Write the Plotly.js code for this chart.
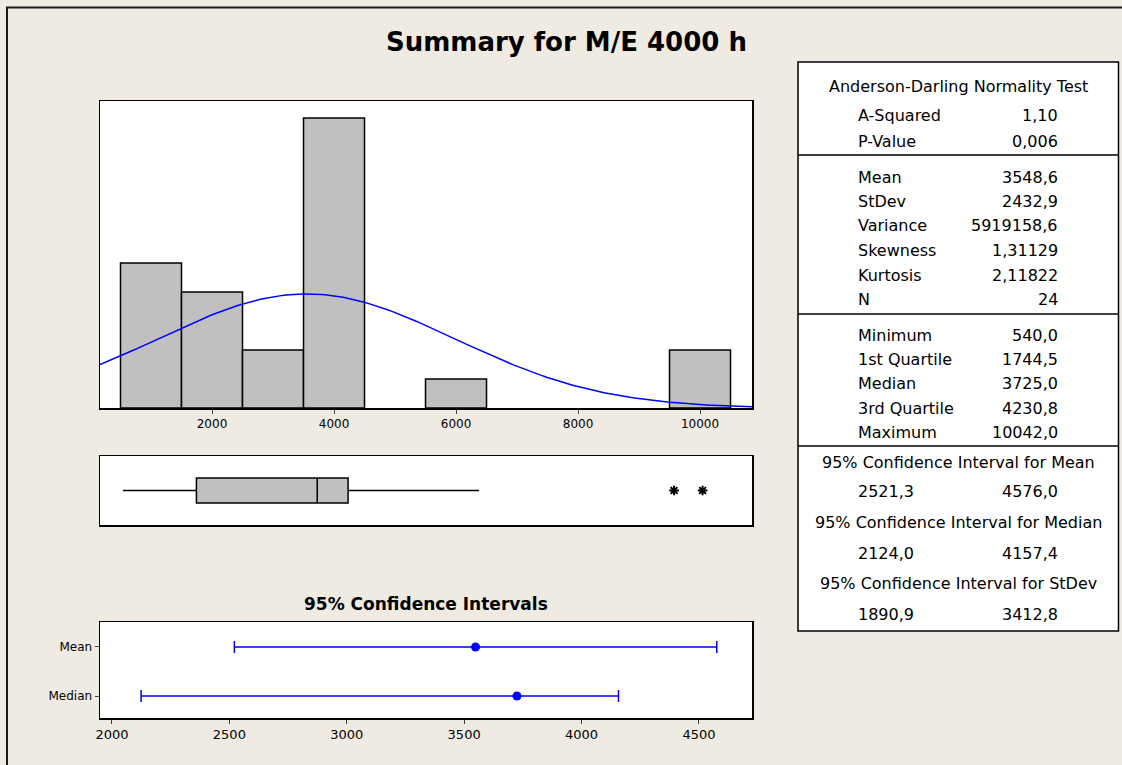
<!DOCTYPE html>
<html>
<head>
<meta charset="utf-8">
<script src="https://cdn.plot.ly/plotly-3.0.1.min.js"></script>
<style>
html,body{margin:0;padding:0;background:#efebe2;}
#chart{width:1122px;height:765px;}
</style>
</head>
<body>
<div id="chart"></div>
<script>
// ---------- data ----------
const binCenters = [1000, 2000, 3000, 4000, 6000, 10000];
const binCounts  = [5, 4, 2, 10, 1, 2];
const binWidth = 1000;
const meanVal = 3548.6;
const sdVal = 2432.9;
const nObs = 24;

const boxQ1 = [1744.5];
const boxMedian = [3725.0];
const boxQ3 = [4230.8];
const boxLowerWhisker = [540.0];
const boxUpperWhisker = [6377];
const boxOutliers = [9574, 10042.0];

const ciCats = ['Mean', 'Median'];
const ciCenters = [3548.6, 3725.0];
const ciLows = [2521.3, 2124.0];
const ciHighs = [4576.0, 4157.4];

const histTicks = [2000, 4000, 6000, 8000, 10000];
const histTickLabels = ['2000', '4000', '6000', '8000', '10000'];
const ciTicks = [2000, 2500, 3000, 3500, 4000, 4500];
const ciTickLabels = ['2000', '2500', '3000', '3500', '4000', '4500'];

const adLabels = ['A-Squared', 'P-Value'];
const adValues = ['1,10', '0,006'];
const descLabels = ['Mean', 'StDev', 'Variance', 'Skewness', 'Kurtosis', 'N'];
const descValues = ['3548,6', '2432,9', '5919158,6', '1,31129', '2,11822', '24'];
const quantLabels = ['Minimum', '1st Quartile', 'Median', '3rd Quartile', 'Maximum'];
const quantValues = ['540,0', '1744,5', '3725,0', '4230,8', '10042,0'];
const ciTitles = ['95% Confidence Interval for Mean', '95% Confidence Interval for Median', '95% Confidence Interval for StDev'];
const ciLowText = ['2521,3', '2124,0', '1890,9'];
const ciHighText = ['4576,0', '4157,4', '3412,8'];

// ---------- layout helpers ----------
const W = 1122, H = 765;
const px = v => v / W;
const py = v => (H - v) / H;
const FONT = 'DejaVu Sans, Liberation Sans, sans-serif';

const histRange = [164, 10852];
const ciRange = [1949, 4726];

// fitted normal curve (from mean / stdev shown in table)
const curveX = [], curveY = [];
for (let i = 0; i <= 200; i++) {
  const x = histRange[0] + (histRange[1] - histRange[0]) * i / 200;
  curveX.push(x);
  curveY.push(nObs * binWidth / (sdVal * Math.sqrt(2 * Math.PI)) * Math.exp(-0.5 * Math.pow((x - meanVal) / sdVal, 2)));
}

const traces = [
  {
    type: 'bar', x: binCenters, y: binCounts, width: binWidth,
    marker: {color: '#c0c0c0', line: {color: '#000', width: 1.5}},
    xaxis: 'x', yaxis: 'y', hoverinfo: 'x+y'
  },
  {
    type: 'scatter', mode: 'lines', x: curveX, y: curveY,
    line: {color: '#0000ff', width: 1.5}, xaxis: 'x', yaxis: 'y'
  },
  {
    type: 'box', orientation: 'h', y: [0],
    q1: boxQ1, median: boxMedian, q3: boxQ3,
    lowerfence: boxLowerWhisker, upperfence: boxUpperWhisker,
    fillcolor: '#c0c0c0', line: {color: '#000', width: 1.5},
    whiskerwidth: 0, width: 0.72, boxpoints: false,
    xaxis: 'x2', yaxis: 'y2'
  },
  {
    type: 'scatter', mode: 'markers', x: boxOutliers, y: boxOutliers.map(() => 0),
    marker: {symbol: 'asterisk-open', size: 8, color: '#000', line: {color: '#000', width: 2}},
    xaxis: 'x2', yaxis: 'y2'
  },
  {
    type: 'scatter', mode: 'markers', x: ciCenters, y: ciCats,
    marker: {color: '#0000ff', size: 9},
    error_x: {
      type: 'data', symmetric: false,
      array: ciHighs.map((h, i) => h - ciCenters[i]),
      arrayminus: ciLows.map((l, i) => ciCenters[i] - l),
      color: '#0000ff', thickness: 1.5, width: 6
    },
    xaxis: 'x3', yaxis: 'y3'
  }
];

const axisBase = {
  showgrid: false, zeroline: false, showline: true, mirror: true,
  linecolor: '#000', linewidth: 1.5
};

const annotations = [];
function ann(text, x, y, anchor, size, bold) {
  annotations.push({
    text: bold ? '<b>' + text + '</b>' : text,
    x: px(x), y: py(y), xref: 'paper', yref: 'paper',
    xanchor: anchor, yanchor: 'middle', showarrow: false,
    font: {family: FONT, size: size, color: '#000'}
  });
}
const LX = 856, RX = 1060, CX = 958, TS = 16;
ann('Anderson-Darling Normality Test', CX, 86, 'center', TS);
const adY = [115, 141];
adLabels.forEach((l, i) => { ann(l, LX, adY[i], 'left', TS); ann(adValues[i], RX, adY[i], 'right', TS); });
const descY = [178, 202, 226, 251, 275, 299];
descLabels.forEach((l, i) => { ann(l, LX, descY[i], 'left', TS); ann(descValues[i], RX, descY[i], 'right', TS); });
const quantY = [335, 359, 383, 408, 432];
quantLabels.forEach((l, i) => { ann(l, LX, quantY[i], 'left', TS); ann(quantValues[i], RX, quantY[i], 'right', TS); });
const ciTitleY = [462, 522, 583], ciValY = [492, 553, 614];
ciTitles.forEach((t, i) => {
  ann(t, CX, ciTitleY[i], 'center', TS);
  ann(ciLowText[i], LX, ciValY[i], 'left', TS);
  ann(ciHighText[i], RX, ciValY[i], 'right', TS);
});
ann('95% Confidence Intervals', 426, 604, 'center', 17, true);

const shapes = [
  {type: 'rect', xref: 'paper', yref: 'paper', x0: px(798), x1: px(1118.5), y0: py(631), y1: py(62),
   line: {color: '#000', width: 1.5}, fillcolor: '#fff', layer: 'below'},
  {type: 'line', xref: 'paper', yref: 'paper', x0: px(798), x1: px(1118.5), y0: py(155), y1: py(155), line: {color: '#000', width: 1.5}},
  {type: 'line', xref: 'paper', yref: 'paper', x0: px(798), x1: px(1118.5), y0: py(314), y1: py(314), line: {color: '#000', width: 1.5}},
  {type: 'line', xref: 'paper', yref: 'paper', x0: px(798), x1: px(1118.5), y0: py(446), y1: py(446), line: {color: '#000', width: 1.5}},
  {type: 'line', xref: 'paper', yref: 'paper', x0: px(6), x1: 1, y0: py(7.5), y1: py(7.5), line: {color: '#1a1a1a', width: 2}},
  {type: 'line', xref: 'paper', yref: 'paper', x0: px(7), x1: px(7), y0: py(7), y1: 0, line: {color: '#1a1a1a', width: 2}}
];

const layout = {
  width: W, height: H,
  margin: {l: 0, r: 0, t: 0, b: 0},
  paper_bgcolor: '#efebe2', plot_bgcolor: '#ffffff',
  showlegend: false,
  font: {family: FONT, color: '#000'},
  title: {
    text: '<b>Summary for M/E 4000 h</b>',
    font: {family: FONT, size: 26, color: '#000'},
    x: px(566.5), xanchor: 'center', xref: 'paper',
    y: py(42), yanchor: 'middle', yref: 'container'
  },
  xaxis: Object.assign({}, axisBase, {
    domain: [px(100), px(752)], range: histRange, anchor: 'y',
    tickmode: 'array', tickvals: histTicks, ticktext: histTickLabels,
    ticks: 'outside', ticklen: 4, tickwidth: 1,
    tickfont: {family: FONT, size: 12}
  }),
  yaxis: Object.assign({}, axisBase, {
    domain: [py(408), py(101)], range: [0, 10.59], anchor: 'x',
    showticklabels: false, ticks: ''
  }),
  xaxis2: Object.assign({}, axisBase, {
    domain: [px(100), px(752)], range: histRange, anchor: 'y2',
    showticklabels: false, ticks: ''
  }),
  yaxis2: Object.assign({}, axisBase, {
    domain: [py(525), py(456)], range: [-1, 1], anchor: 'x2',
    showticklabels: false, ticks: ''
  }),
  xaxis3: Object.assign({}, axisBase, {
    domain: [px(100), px(752)], range: ciRange, anchor: 'y3',
    tickmode: 'array', tickvals: ciTicks, ticktext: ciTickLabels,
    ticks: 'outside', ticklen: 4, tickwidth: 1,
    tickfont: {family: FONT, size: 13}
  }),
  yaxis3: Object.assign({}, axisBase, {
    domain: [py(718), py(622)], anchor: 'x3', type: 'category',
    categoryorder: 'array', categoryarray: ['Median', 'Mean'],
    range: [-0.449, 1.51], ticks: 'outside', ticklen: 4, tickwidth: 1,
    tickfont: {family: FONT, size: 12}
  }),
  shapes: shapes,
  annotations: annotations
};

Plotly.newPlot('chart', traces, layout, {displayModeBar: false, staticPlot: true});
</script>
</body>
</html>
